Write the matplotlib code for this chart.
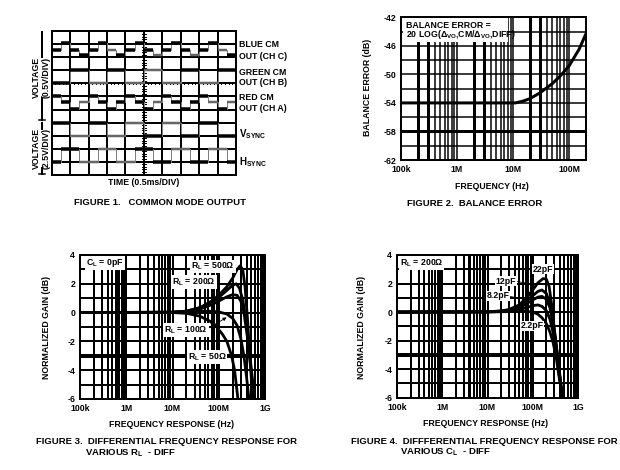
import numpy as np
import matplotlib
matplotlib.use("Agg")
import matplotlib.pyplot as plt
from matplotlib.lines import Line2D
from matplotlib.patches import Rectangle, FancyArrowPatch

# ---------------------------------------------------------------- data
# Figure 1: scope traces (levels in graticule divisions, 0 = bottom line)
blue_cm_levels = [9.55, 10.1, 9.55, 9.15, 9.55, 10.1, 9.55, 9.15, 9.55, 10.1,
                  9.55, 9.15, 9.55, 10.1, 9.55, 9.15, 9.55, 10.1, 9.55, 9.15]
blue_cm_shade = ['k', 'k', 'k', 'k', 'k', 'k', 'g', 'k', 'k', 'k',
                 'k', 'g', 'k', 'k', 'k', 'g', 'k', 'k', 'g', 'k']
green_cm_levels = [7, 8, 7, 8, 7, 8, 7, 8, 7, 8]
green_cm_shade = ['k', 'k', 'g', 'k', 'g', 'g', 'g', 'k', 'g', 'k']
red_cm_levels = [6.0, 5.55, 5.05, 5.55, 6.0, 5.55, 5.05, 5.55, 6.0, 5.55,
                 5.05, 5.55, 6.0, 5.55, 5.05, 5.55, 6.0, 5.55, 5.05, 5.55]
red_cm_shade = ['k', 'k', 'k', 'g', 'k', 'k', 'k', 'k', 'k', 'k',
                'k', 'g', 'k', 'k', 'k', 'k', 'k', 'g', 'k', 'g']
vsync_levels = [4, 3, 4, 3, 4, 3, 4, 3, 4, 3]
vsync_shade = ['k', 'g', 'k', 'g', 'g', 'k', 'g', 'k', 'k', 'k']
hsync_levels = [1, 2, 2, 1, 1, 2, 2, 1, 1, 2, 2, 1, 1, 2, 2, 1, 1, 2, 2, 1]
hsync_shade = ['k', 'k', 'k', 'g', 'g', 'g', 'g', 'g', 'g', 'k',
               'k', 'k', 'k', 'g', 'g', 'k', 'k', 'g', 'g', 'k']

# Figure 2: balance error
f2_freq = [1e5, 1e6, 1e7, 1.1e7, 1.5e7, 2e7, 3e7, 5e7, 7e7, 1e8, 1.5e8, 2e8]
f2_err = [-54, -54, -54, -54, -53.75, -53.4, -52.6, -51.3, -50.2, -48.8, -46.5, -44.3]

# Figure 3: normalized gain vs RL (CL = 0pF)
f3_freq_500 = [1e5, 1e7, 2e7, 4e7, 7e7, 1e8, 1.5e8, 2e8, 2.5e8, 2.9e8, 3.3e8, 3.7e8, 4.2e8, 4.8e8, 5.4e8]
f3_gain_500 = [0, 0.03, 0.1, 0.35, 0.8, 1.2, 1.8, 2.4, 3.0, 3.25, 3.0, 1.8, -0.5, -3.5, -6]
f3_freq_200 = [1e5, 1e7, 2e7, 4e7, 7e7, 1e8, 1.5e8, 2e8, 2.4e8, 2.8e8, 3.3e8, 4e8, 4.8e8, 5.5e8, 6e8]
f3_gain_200 = [0, 0.03, 0.1, 0.35, 0.75, 1.05, 1.55, 1.9, 2.0, 1.7, 0.9, -0.8, -3.2, -5.0, -6]
f3_freq_unl = [1e5, 1e7, 2e7, 4e7, 7e7, 1e8, 1.5e8, 2e8, 2.5e8, 3e8, 3.5e8, 4.2e8, 5e8, 5.8e8]
f3_gain_unl = [0, 0.02, 0.08, 0.25, 0.55, 0.8, 1.1, 1.25, 1.2, 0.8, 0, -1.8, -4.0, -6]
f3_freq_100 = [1e5, 1e7, 3e7, 6e7, 1e8, 1.5e8, 2e8, 2.5e8, 3e8, 3.5e8, 4e8, 4.5e8]
f3_gain_100 = [0, 0.02, 0.07, 0.1, 0.05, -0.1, -0.4, -0.9, -1.8, -3.0, -4.5, -6]
f3_freq_50 = [1e5, 1e7, 2e7, 3.9e7, 6.5e7, 9e7, 1.2e8, 1.5e8, 1.9e8, 2.2e8, 2.6e8]
f3_gain_50 = [0, 0, -0.05, -0.25, -0.6, -1.0, -1.5, -2.0, -3.0, -4.0, -6]

# Figure 4: normalized gain vs CL (RL = 200 ohm)
f4_freq_22 = [1e5, 1e7, 2e7, 3e7, 5e7, 7e7, 1e8, 1.3e8, 1.7e8, 2e8, 2.3e8, 2.6e8, 3e8, 3.5e8, 4e8, 4.6e8]
f4_gain_22 = [0, 0.02, 0.08, 0.18, 0.5, 0.95, 1.55, 2.05, 2.35, 2.3, 1.8, 0.6, -1.2, -3.0, -4.5, -6]
f4_freq_12 = [1e5, 1e7, 2e7, 3e7, 5e7, 7e7, 1e8, 1.3e8, 1.6e8, 2e8, 2.4e8, 2.8e8, 3.3e8, 3.8e8, 4.5e8]
f4_gain_12 = [0, 0.02, 0.07, 0.15, 0.4, 0.75, 1.15, 1.45, 1.55, 1.3, 0.6, -0.6, -2.3, -4.0, -6]
f4_freq_8p2 = [1e5, 1e7, 2e7, 3e7, 5e7, 7e7, 1e8, 1.3e8, 1.6e8, 2e8, 2.4e8, 2.8e8, 3.3e8, 3.8e8, 4.5e8]
f4_gain_8p2 = [0, 0.02, 0.06, 0.12, 0.3, 0.55, 0.85, 1.05, 1.1, 0.9, 0.3, -0.8, -2.4, -4.1, -6]
f4_freq_unl = [1e5, 1e7, 2e7, 3e7, 5e7, 7e7, 1e8, 1.3e8, 1.6e8, 2e8, 2.4e8, 2.8e8, 3.3e8, 3.8e8, 4.5e8]
f4_gain_unl = [0, 0.01, 0.04, 0.08, 0.18, 0.3, 0.45, 0.5, 0.4, 0.1, -0.5, -1.4, -2.8, -4.3, -6]
f4_freq_2p2 = [1e5, 1e7, 3e7, 5e7, 7e7, 1e8, 1.3e8, 1.6e8, 2e8, 2.4e8, 2.8e8, 3.3e8, 3.8e8, 4.6e8]
f4_gain_2p2 = [0, 0.01, 0.03, 0.05, 0.05, 0.0, -0.15, -0.4, -0.8, -1.4, -2.1, -3.2, -4.5, -6]

freq_ticks_3 = [1e5, 1e6, 1e7, 1e8, 1e9]
freq_labels_3 = ["100k", "1M", "10M", "100M", "1G"]
freq_ticks_2 = [1e5, 1e6, 1e7, 1e8]
freq_labels_2 = ["100k", "1M", "10M", "100M"]
gain_ticks = [4, 2, 0, -2, -4, -6]
err_ticks = [-42, -46, -50, -54, -58, -62]

# ---------------------------------------------------------------- style
plt.rcParams['font.family'] = ['Liberation Sans', 'DejaVu Sans']
plt.rcParams['font.weight'] = 'bold'
plt.rcParams['mathtext.fontset'] = 'custom'
plt.rcParams['mathtext.rm'] = 'Liberation Sans:bold'
plt.rcParams['mathtext.it'] = 'Liberation Sans:bold'
plt.rcParams['mathtext.bf'] = 'Liberation Sans:bold'

W, H = 620, 470
fig = plt.figure(figsize=(6.2, 4.7), dpi=100)
fig.patch.set_facecolor('white')

TS = 6.3   # tick / label text size
CS = 6.8   # caption size
PX = 0.72  # one pixel in points


def px_axes(x0, y0, x1, y1):
    return fig.add_axes([x0 / W, 1 - y1 / H, (x1 - x0) / W, (y1 - y0) / H])


def ftext(x, y, s, **kw):
    kw.setdefault('fontsize', TS)
    kw.setdefault('fontweight', 'bold')
    return fig.text(x / W, 1 - y / H, s, **kw)


def fline(xs, ys, **kw):
    fig.add_artist(Line2D([x / W for x in xs], [1 - y / H for y in ys],
                          transform=fig.transFigure, **kw))


def frame(ax, lw=2 * PX):
    for s in ax.spines.values():
        s.set_linewidth(lw)
        s.set_color('black')
        s.set_zorder(5)


# ================================================================ Figure 1
ax1 = px_axes(51.7, 31.3, 236, 174.7)
ax1.set_xlim(0, 10)
ax1.set_ylim(0, 11)
ax1.set_xticks([])
ax1.set_yticks([])
for i in range(1, 10):
    ax1.axvline(i, color='k', lw=2 * PX, zorder=1)
for j in range(1, 11):
    ax1.axhline(j, color='k', lw=2 * PX, zorder=1)
# centre axes with small ticks
for t in np.arange(0.2, 10, 0.2):
    ax1.plot([t, t], [6.92, 7.08], color='k', lw=PX, zorder=2)
for t in np.arange(0.2, 11, 0.2):
    ax1.plot([4.91, 5.09], [t, t], color='k', lw=PX, zorder=2)
frame(ax1)


def draw_trace(ax, levels, shade, seg_w):
    n = len(levels)
    edges = np.arange(n + 1) * seg_w
    ax.stairs(levels, edges, baseline=None, color='0.5', lw=PX, zorder=3)
    for k in range(n):
        col = 'k' if shade[k] == 'k' else '0.4'
        lw = 3.5 * PX if shade[k] == 'k' else 2.5 * PX
        ax.hlines(levels[k], edges[k], edges[k + 1], color=col, lw=lw, zorder=4)


draw_trace(ax1, blue_cm_levels, blue_cm_shade, 0.5)
draw_trace(ax1, green_cm_levels, green_cm_shade, 1.0)
draw_trace(ax1, red_cm_levels, red_cm_shade, 0.5)
draw_trace(ax1, vsync_levels, vsync_shade, 1.0)
draw_trace(ax1, hsync_levels, hsync_shade, 0.5)

# right-side trace labels
lx = 238.5
ftext(lx, 44.3, "BLUE CM", va='center')
ftext(lx, 56.7, "OUT (CH C)", va='center')
ftext(lx, 72.3, "GREEN CM", va='center')
ftext(lx, 82.8, "OUT (CH B)", va='center')
ftext(lx, 97.3, "RED CM", va='center')
ftext(lx, 108.5, "OUT (CH A)", va='center')
ftext(lx, 134.5, r"V$_{\rm SYNC}$", va='center', fontsize=7)
ftext(lx, 162.5, r"H$_{\rm SYNC}$", va='center', fontsize=7)

# left bracket labels
bx = 41.5
fline([bx, bx], [31.5, 57], color='k', lw=2 * PX)
fline([bx, bx], [98, 120], color='k', lw=2 * PX)
fline([bx - 3, bx + 3], [120, 120], color='k', lw=1.5 * PX)
fline([bx, bx], [123, 129], color='k', lw=2 * PX)
fline([bx, bx], [168, 174], color='k', lw=2 * PX)
fline([bx - 3, bx + 3], [174, 174], color='k', lw=1.5 * PX)
ftext(bx, 77.5, "VOLTAGE\n(0.5V/DIV)", rotation=90, ha='center', va='center',
      linespacing=1.05, fontsize=6.3)
ftext(bx, 148.5, "VOLTAGE\n(2.5V/DIV)", rotation=90, ha='center', va='center',
      linespacing=1.05, fontsize=6.3)

ftext(143.7, 182.7, "TIME (0.5ms/DIV)", ha='center', va='center')
ftext(160, 202.7, "FIGURE 1.   COMMON MODE OUTPUT", ha='center', va='center', fontsize=CS)

# ================================================================ Figure 2
ax2 = px_axes(401, 17.3, 586, 160)
ax2.set_xscale('log')
ax2.set_xlim(1e5, 2e8)
ax2.set_ylim(-62, -42)
for dec in [1e5, 1e6, 1e7, 1e8]:
    for m in range(1, 10):
        v = dec * m
        if 1e5 < v < 2e8:
            lw = 3 * PX if m in (2, 3) else 1.5 * PX
            ax2.axvline(v, color='k', lw=lw, zorder=1)
for yv in range(-60, -42, 2):
    ax2.axhline(yv, color='k', lw=3 * PX if yv == -58 else 1.5 * PX, zorder=1)
ax2.plot(f2_freq, f2_err, color='k', lw=3 * PX, zorder=3)
ax2.set_xticks(freq_ticks_2)
ax2.set_xticklabels(freq_labels_2)
ax2.set_yticks(err_ticks)
ax2.set_yticklabels([str(v) for v in err_ticks])
ax2.xaxis.set_minor_locator(matplotlib.ticker.NullLocator())
ax2.tick_params(length=0, pad=3.5, labelsize=TS)
frame(ax2)

fig.add_artist(Rectangle((403 / W, 1 - 41.5 / H), 105 / W, 23 / H,
                         transform=fig.transFigure, facecolor='white',
                         edgecolor='none', zorder=2))
ftext(406, 25, "BALANCE ERROR =", va='center', zorder=4)
ftext(406, 34.5, r"20 LOG($\Delta_{\rm VO}$,CM/$\Delta_{\rm VO}$,DIFF)", va='center', zorder=4)

ftext(368, 87, "BALANCE ERROR (dB)", rotation=90, ha='center', va='center')
ftext(492, 186.7, "FREQUENCY (Hz)", ha='center', va='center')
ftext(474.5, 203.3, "FIGURE 2.  BALANCE ERROR", ha='center', va='center', fontsize=CS)


# ================================================================ Figures 3 / 4
def gain_axes(x0, y0, x1, y1, thick_v):
    ax = px_axes(x0, y0, x1, y1)
    ax.set_xscale('log')
    ax.set_xlim(1e5, 1e9)
    ax.set_ylim(-6, 4)
    for dec in [1e5, 1e6, 1e7, 1e8]:
        for m in range(1, 10):
            v = dec * m
            if 1e5 < v < 1e9:
                ax.axvline(v, color='k', lw=3 * PX if v in thick_v else 2 * PX, zorder=1)
    for yv in range(-5, 4):
        ax.axhline(yv, color='k', lw=4 * PX if yv == -3 else 2 * PX, zorder=1)
    ax.set_xticks(freq_ticks_3)
    ax.set_xticklabels(freq_labels_3)
    ax.xaxis.set_minor_locator(matplotlib.ticker.NullLocator())
    ax.set_yticks(gain_ticks)
    ax.set_yticklabels([str(v) for v in gain_ticks])
    ax.tick_params(length=0, pad=3.5, labelsize=TS)
    frame(ax)
    return ax


ax3 = gain_axes(80, 255, 265, 399, thick_v=[6e5, 8e5])
for fx, gy in [(f3_freq_500, f3_gain_500), (f3_freq_200, f3_gain_200),
               (f3_freq_unl, f3_gain_unl), (f3_freq_100, f3_gain_100),
               (f3_freq_50, f3_gain_50)]:
    ax3.plot(fx, gy, color='k', lw=2.0, zorder=3)

wb = dict(facecolor='white', edgecolor='none', pad=0.6)
ftext(86, 263, r"C$_{\rm L}$ = 0pF", va='center', bbox=wb)
ftext(213, 266.5, r"R$_{\rm L}$ = 500Ω", ha='center', va='center', bbox=wb)
ftext(194, 282, r"R$_{\rm L}$ = 200Ω", ha='center', va='center', bbox=wb)
fline([213.5, 230], [282, 285.5], color='k', lw=0.6)
ftext(186, 330, r"R$_{\rm L}$ = 100Ω", ha='center', va='center', bbox=wb)
fig.add_artist(FancyArrowPatch(
    (205.5 / W, 1 - 330 / H), (229 / W, 1 - 316 / H), transform=fig.transFigure,
    arrowstyle='-|>', mutation_scale=5, lw=0.6, color='k'))
ftext(207, 357, r"R$_{\rm L}$ = 50Ω", ha='center', va='center', bbox=wb)

ftext(46.7, 327.5, "NORMALIZED GAIN (dB)", rotation=90, ha='center', va='center')
ftext(171.7, 424.3, "FREQUENCY RESPONSE (Hz)", ha='center', va='center')
ftext(36, 441.7, "FIGURE 3.  DIFFERENTIAL FREQUENCY RESPONSE FOR", va='center', fontsize=CS)
ftext(85, 453.3, r"VARIOUS R$_{\rm L}$  - DIFF", va='center', fontsize=CS)

ax4 = gain_axes(397, 255, 578, 397.7, thick_v=[4e6])
for fx, gy in [(f4_freq_22, f4_gain_22), (f4_freq_12, f4_gain_12),
               (f4_freq_8p2, f4_gain_8p2), (f4_freq_unl, f4_gain_unl),
               (f4_freq_2p2, f4_gain_2p2)]:
    ax4.plot(fx, gy, color='k', lw=2.0, zorder=3)

ftext(400, 263, r"R$_{\rm L}$ = 200Ω", va='center', bbox=wb)
ftext(543, 269, "22pF", ha='center', va='center', bbox=wb)
ftext(506, 281, "12pF", ha='center', va='center', bbox=wb)
fline([516.5, 532], [281.5, 284], color='k', lw=0.6)
ftext(498, 296, "8.2pF", ha='center', va='center', bbox=wb)
fline([510.5, 528], [296.5, 300], color='k', lw=0.6)
ftext(532, 326, "2.2pF", ha='center', va='center', bbox=wb)

ftext(361.7, 327.3, "NORMALIZED GAIN (dB)", rotation=90, ha='center', va='center')
ftext(485.7, 423.3, "FREQUENCY RESPONSE (Hz)", ha='center', va='center')
ftext(351, 441, "FIGURE 4.  DIFFFERENTIAL FREQUENCY RESPONSE FOR", va='center', fontsize=CS)
ftext(400, 452.7, r"VARIOUS C$_{\rm L}$  - DIFF", va='center', fontsize=CS)

fig.savefig("out.png", dpi=100, facecolor='white')
